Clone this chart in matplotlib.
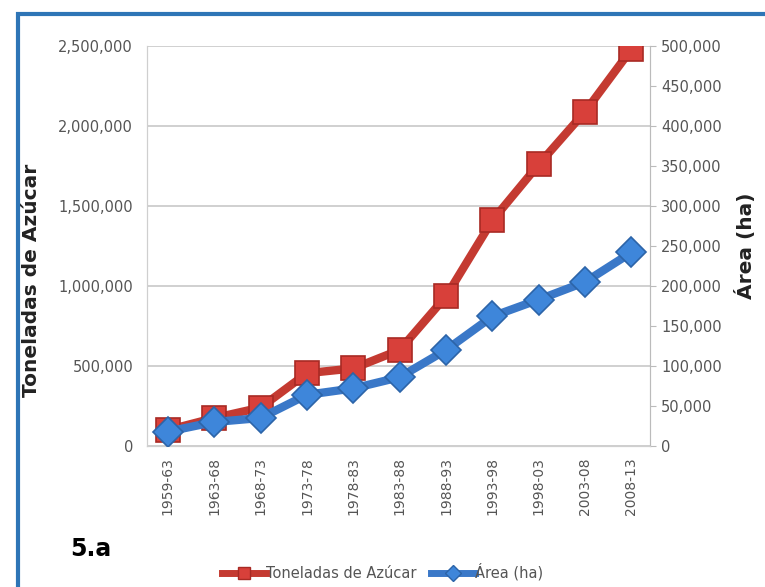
import matplotlib
matplotlib.use("Agg")
import matplotlib.pyplot as plt
from matplotlib.patches import Rectangle
from matplotlib.lines import Line2D
from matplotlib.ticker import FuncFormatter, MultipleLocator

categories = ["1959-63", "1963-68", "1968-73", "1973-78", "1978-83", "1983-88",
              "1988-93", "1993-98", "1998-03", "2003-08", "2008-13"]
toneladas = [100000, 175000, 240000, 455000, 485000, 600000,
             935000, 1410000, 1760000, 2090000, 2480000]
area_ha = [18000, 30000, 35000, 64000, 72000, 86000,
           120000, 162000, 183000, 205000, 242000]

plt.rcParams['font.family'] = ['Liberation Sans Narrow', 'DejaVu Sans']

fig = plt.figure(figsize=(7.65, 5.87), dpi=100)
W, H = 765, 587
ax = fig.add_axes([147 / W, 1 - 446 / H, (650 - 147) / W, (446 - 46) / H])
ax2 = ax.twinx()

x = list(range(len(categories)))
red_line = '#C43A31'
red_face = '#D8403A'
blue_line = '#3A78C8'
blue_face = '#3E86DA'

l1, = ax.plot(x, toneladas, color=red_line, lw=6, marker='s', ms=17,
              mfc=red_face, mec='#A82A24', mew=1.2, zorder=3)
l2, = ax2.plot(x, area_ha, color=blue_line, lw=6, marker='D', ms=15,
               mfc=blue_face, mec='#2C64A8', mew=1.2, zorder=4)

ax.set_xlim(-0.45, 10.4)
ax.set_ylim(0, 2500000)
ax2.set_ylim(0, 500000)
ax.yaxis.set_major_locator(MultipleLocator(500000))
ax2.yaxis.set_major_locator(MultipleLocator(50000))
fmt = FuncFormatter(lambda v, p: f"{int(v):,}")
ax.yaxis.set_major_formatter(fmt)
ax2.yaxis.set_major_formatter(fmt)

tick_col = '#555555'
ax.grid(axis='y', color='#C8C8C8', lw=1.2)
ax.set_axisbelow(True)
ax.set_xticks(x)
ax.set_xticklabels(categories, rotation=90, fontsize=10, color=tick_col)
ax.tick_params(axis='x', length=0, pad=8)
ax.tick_params(axis='y', length=0, labelsize=10.5, labelcolor=tick_col, pad=10)
ax2.tick_params(axis='y', length=4, color='#BBBBBB', labelsize=10.5,
                labelcolor=tick_col, pad=4)

for a in (ax, ax2):
    a.spines['top'].set_visible(False)
    for s in ('left', 'bottom', 'right'):
        a.spines[s].set_color('#CFCFCF')
ax2.spines['right'].set_color('#BBBBBB')

ax.set_ylabel('Toneladas de Azúcar', fontsize=14.5, fontweight='bold',
              family=['DejaVu Sans'], color='#222222')
ax.yaxis.set_label_coords(-0.21, 0.415)
ax2.set_ylabel('Área (ha)', fontsize=14.5, fontweight='bold',
               family=['DejaVu Sans'], color='#222222')
ax2.yaxis.set_label_coords(1.168, 0.50)

h1 = Line2D([], [], color=red_line, lw=5, marker='s', ms=9,
            mfc=red_face, mec='#A82A24')
h2 = Line2D([], [], color=blue_line, lw=5, marker='D', ms=8,
            mfc=blue_face, mec='#2C64A8')
fig.legend(handles=[h1, h2], labels=['Toneladas de Azúcar', 'Área (ha)'],
           loc='center', bbox_to_anchor=(0.5, 1 - 572 / H),
           ncol=2, frameon=False, fontsize=10.5, handlelength=3.0,
           columnspacing=1.0, handletextpad=0.0, labelcolor=tick_col)

fig.text(70 / W, 1 - 549 / H, '5.a', fontsize=17, fontweight='bold',
         family=['DejaVu Sans'], ha='left', va='center')

fig.patches.append(Rectangle((18 / W, -0.02), 1.05 - 18 / W, 1 - 14 / H + 0.02,
                             transform=fig.transFigure, fill=False,
                             edgecolor='#2E75B6', lw=3, zorder=0))

fig.savefig('out.png', dpi=100)
